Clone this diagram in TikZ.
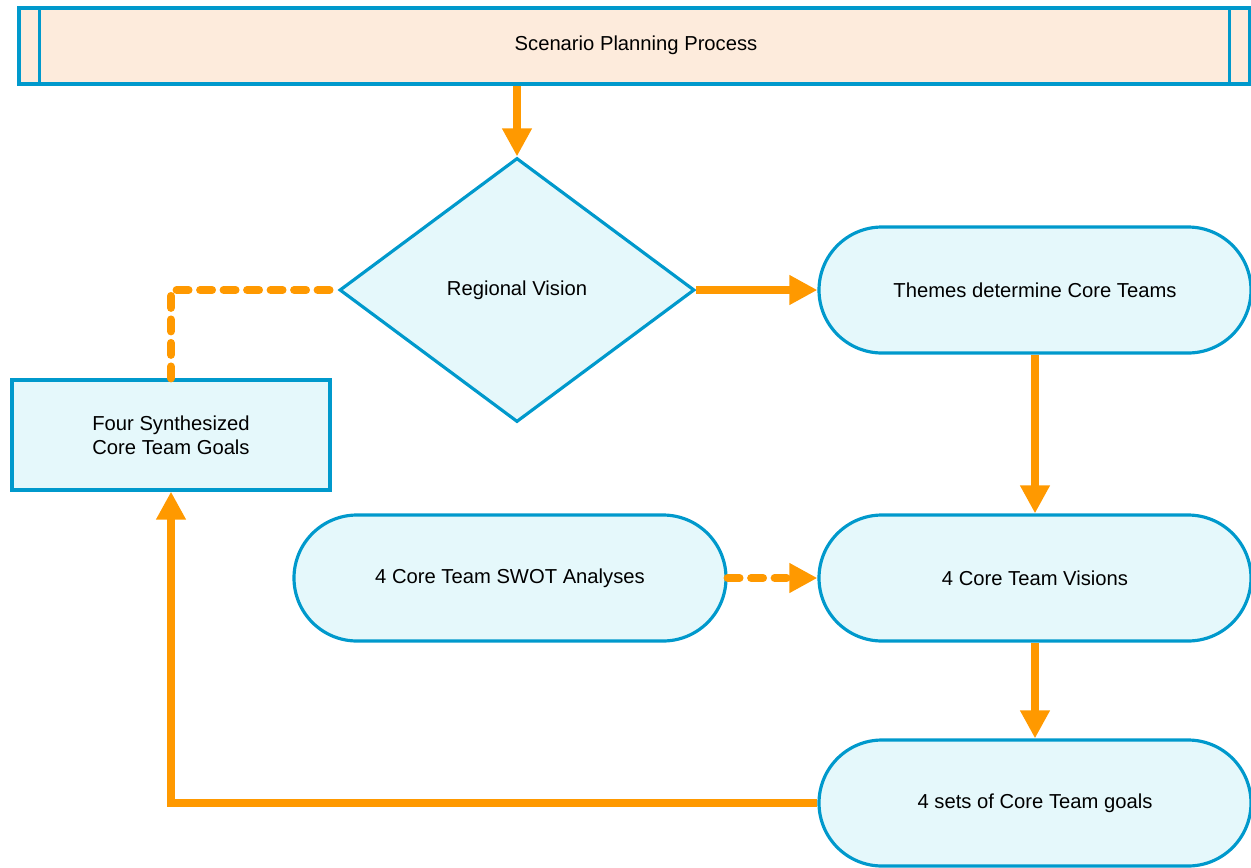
\documentclass[tikz,border=0pt]{standalone}
\usepackage{fontspec}
\setmainfont{Liberation Sans}
\usetikzlibrary{shapes.geometric,shapes.misc,arrows.meta}
\definecolor{edgeblue}{HTML}{0099CC}
\definecolor{boxfill}{HTML}{E5F8FB}
\definecolor{barfill}{HTML}{FDEBDC}
\definecolor{flowor}{HTML}{FF9900}
\begin{document}
\begin{tikzpicture}[
        font=\fontsize{11.5}{13.6}\selectfont,
        banner/.style={rectangle, draw=edgeblue, fill=barfill, line width=1.8pt, minimum width=24.62cm, minimum height=1.52cm, inner sep=0pt},
        decision/.style={diamond, draw=edgeblue, fill=boxfill, line width=1.8pt, minimum width=7.1cm, minimum height=5.28cm, inner sep=0pt},
        pill/.style={rounded rectangle, draw=edgeblue, fill=boxfill, line width=1.8pt, minimum width=8.64cm, minimum height=2.52cm, inner sep=0pt},
        goalbox/.style={rectangle, draw=edgeblue, fill=boxfill, line width=1.8pt, minimum width=6.36cm, minimum height=2.2cm, align=center},
        flow/.style={draw=flowor, line width=4.5pt, -{Triangle[length=0.56cm, width=0.56cm]}},
        flowdash/.style={draw=flowor, line width=4.5pt, line cap=round, dash pattern=on 0.24cm off 0.23cm}
    ]
    \useasboundingbox (0,0) rectangle (25.02,-17.34);
    \node[banner] (process) at (12.69,-0.92) {};
    \node at (12.72,-0.9) {Scenario Planning Process};
    \draw[edgeblue, line width=1.8pt] ([xshift=0.44cm]process.north west) -- ([xshift=0.44cm]process.south west);
    \draw[edgeblue, line width=1.8pt] ([xshift=-0.44cm]process.north east) -- ([xshift=-0.44cm]process.south east);

    \node[decision] (vision) at (10.34,-5.8) {\raisebox{-2pt}{Regional Vision}};
    \node[pill] (themes) at (20.7,-5.8) {Themes determine Core Teams};
    \node[pill] (visions) at (20.7,-11.56) {4 Core Team Visions};
    \node[pill] (swot) at (10.2,-11.56) {4 Core Team SWOT Analyses};
    \node[pill] (sets) at (20.7,-16.06) {4 sets of Core Team goals};
    \node[goalbox] (synth) at (3.42,-8.7) {Four Synthesized\\Core Team Goals};

    \draw[flow] (process.south -| vision.north) -- (vision.north);
    \draw[flow] (vision.east) -- (themes.west);
    \draw[flow] (themes.south) -- (visions.north);
    \draw[flow] (visions.south) -- (sets.north);
    \draw[flowdash, -{Triangle[length=0.56cm, width=0.56cm]}] (swot.east) -- (visions.west);
    \draw[flow] (sets.west) -| (synth.south);
    \draw[flowdash] (synth.north) |- (vision.west);
\end{tikzpicture}
\end{document}
